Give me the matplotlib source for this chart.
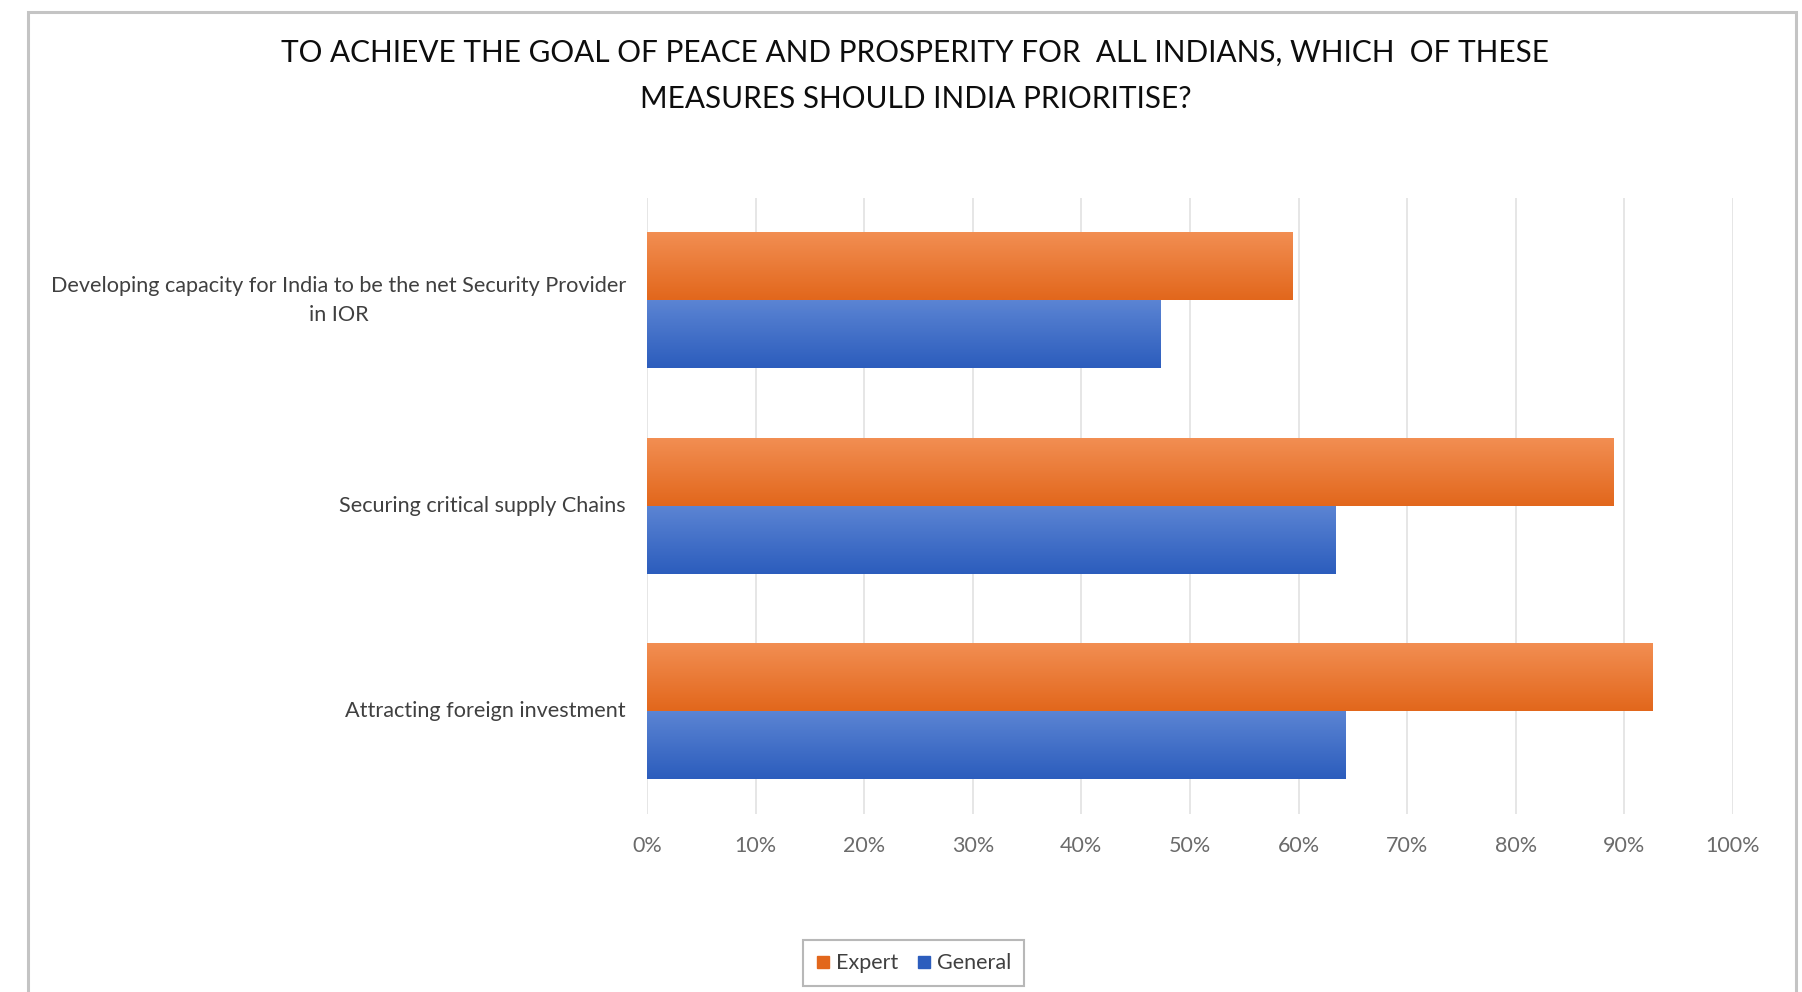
import numpy as np
import matplotlib
matplotlib.use("Agg")
import matplotlib.pyplot as plt
from matplotlib.colors import LinearSegmentedColormap
from matplotlib.patches import Rectangle
from matplotlib.lines import Line2D

# Survey data
categories = [
    "Developing capacity for India to be the net Security Provider\nin IOR",
    "Securing critical supply Chains",
    "Attracting foreign investment",
]
expert = [0.594, 0.890, 0.926]
general = [0.473, 0.634, 0.643]
series_names = ["Expert", "General"]
xticks = [i / 10 for i in range(11)]
xtick_labels = [f"{i * 10}%" for i in range(11)]
title = ("TO ACHIEVE THE GOAL OF PEACE AND PROSPERITY FOR  ALL INDIANS, WHICH  OF THESE\n"
         "MEASURES SHOULD INDIA PRIORITISE?")

plt.rcParams["font.family"] = ["Lato", "DejaVu Sans"]

orange_top, orange_bot = "#F28E52", "#E2671C"
blue_top, blue_bot = "#5B84D3", "#2C5DBD"

fig = plt.figure(figsize=(18.02, 9.92), dpi=100)
fig.patch.set_facecolor("white")

# outer chart frame
frame = Rectangle((0.0155, -0.01), 0.9812, 0.998, transform=fig.transFigure,
                  fill=False, edgecolor="#c4c4c4", linewidth=2.2, zorder=0)
fig.add_artist(frame)

ax = fig.add_axes([0.359, 0.1798, 0.6027, 0.6209])

y = np.arange(len(categories))
h = 0.331
bars_e = ax.barh(y - h / 2, expert, height=h, color=orange_bot, zorder=2)
bars_g = ax.barh(y + h / 2, general, height=h, color=blue_bot, zorder=2)


def shade(bars, top, bottom):
    cmap = LinearSegmentedColormap.from_list("g", [top, bottom])
    grad = np.linspace(0, 1, 64).reshape(-1, 1)
    for b in bars:
        x0, yb, w, hh = b.get_x(), b.get_y(), b.get_width(), b.get_height()
        im = ax.imshow(grad, cmap=cmap, aspect="auto", origin="upper",
                       extent=(x0, x0 + w, yb + hh, yb), zorder=3,
                       interpolation="bilinear")
        im.set_clip_path(b)


shade(bars_e, orange_top, orange_bot)
shade(bars_g, blue_top, blue_bot)

ax.set_xlim(0, 1.0)
ax.set_ylim(len(categories) - 0.5, -0.5)
ax.set_xticks(xticks)
ax.set_xticklabels(xtick_labels)
ax.set_yticks(y)
ax.set_yticklabels(categories, multialignment="center", linespacing=1.55)
for lbl in ax.get_yticklabels():
    lbl.set_verticalalignment("center")
ax.tick_params(axis="x", length=0, pad=16, labelsize=15.5, labelcolor="#6b6b6b")
ax.tick_params(axis="y", length=0, pad=15, labelsize=15.6, labelcolor="#404040")
ax.grid(axis="x", color="#e2e2e2", linewidth=1.2, zorder=0)
ax.set_axisbelow(True)
for s in ax.spines.values():
    s.set_visible(False)

fig.text(0.508, 0.9235, title, ha="center", va="center", fontsize=21.4,
         color="#0d0d0d", linespacing=1.75)

handles = [Line2D([], [], linestyle="none", marker="s", markersize=9,
                  markerfacecolor=c, markeredgecolor=c)
           for c in (orange_bot, blue_bot)]
leg = fig.legend(handles, series_names, loc="center", bbox_to_anchor=(0.507, 0.029),
                 ncol=2, frameon=True, fancybox=False, fontsize=15.5,
                 handlelength=0.6, handletextpad=0.3, columnspacing=0.9,
                 borderpad=0.6, labelcolor="#404040")
leg.get_frame().set_edgecolor("#a6a6a6")
leg.get_frame().set_linewidth(1.5)

fig.savefig("out.png", dpi=100, facecolor="white")
